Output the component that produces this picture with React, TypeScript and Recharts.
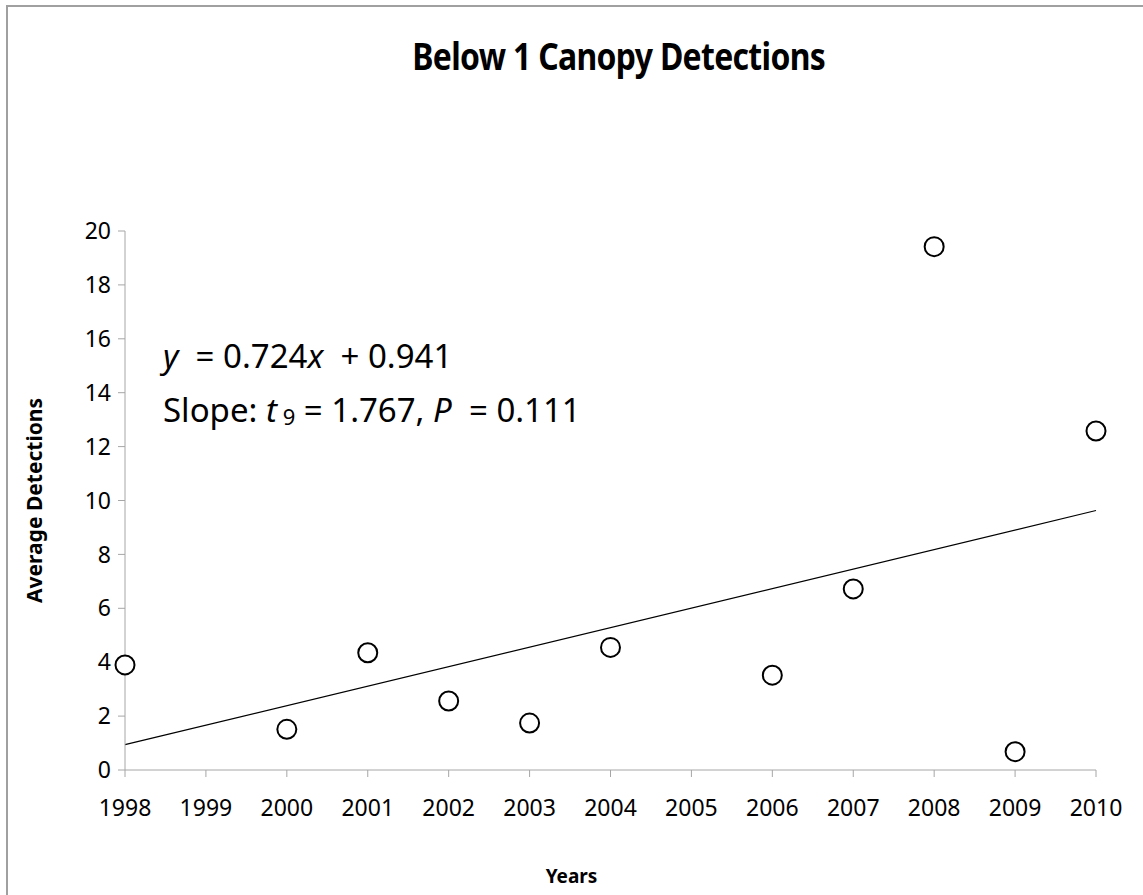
import { ComposedChart, Scatter, XAxis, YAxis, ReferenceLine } from 'recharts';

const years = [1998, 2000, 2001, 2002, 2003, 2004, 2006, 2007, 2008, 2009, 2010];
const detections = [3.9, 1.51, 4.35, 2.56, 1.74, 4.55, 3.52, 6.72, 19.42, 0.68, 12.58];
const xTicks = [1998, 1999, 2000, 2001, 2002, 2003, 2004, 2005, 2006, 2007, 2008, 2009, 2010];
const yTicks = [0, 2, 4, 6, 8, 10, 12, 14, 16, 18, 20];

// fitted trend, x counted in years from 1998
const slope = 0.724;
const intercept = 0.941;

const points = years.map((year, i) => ({ year, value: detections[i] }));

const font = '"Noto Sans", sans-serif';
const axisGray = '#a6a6a6';

const Ring = (props: any) => (
  <circle cx={props.cx} cy={props.cy} r={9.5} fill="#fff" stroke="#000" strokeWidth={2} />
);

const App = () => {
  const first = xTicks[0];
  const last = xTicks[xTicks.length - 1];

  return (
    <div
      style={{
        position: 'absolute',
        left: 6,
        top: 5,
        width: 1160,
        height: 910,
        border: '2px solid #a0a0a0',
        boxSizing: 'border-box',
        background: '#fff',
        fontFamily: font,
        color: '#000',
      }}
    >
      <div
        style={{
          position: 'absolute',
          left: 11,
          width: 1200,
          top: 22,
          textAlign: 'center',
          fontSize: 38,
          fontWeight: 'bold',
          letterSpacing: -0.8,
        }}
      >
        <span style={{ display: 'inline-block', transform: 'scaleX(0.84)' }}>
          Below 1 Canopy Detections
        </span>
      </div>

      <div
        style={{
          position: 'absolute',
          left: 155,
          top: 322,
          fontSize: 33,
          lineHeight: '54px',
          whiteSpace: 'pre',
        }}
      >
        <div>
          <i>y</i>{'  '}= 0.724<i>x</i>{'  '}+ 0.941
        </div>
        <div>
          Slope: <i>t</i>
          <sub style={{ fontSize: 22, verticalAlign: '-3px' }}> 9</sub> = 1.767, <i>P</i>{'  '}= 0.111
        </div>
      </div>

      <ComposedChart
        width={1140}
        height={890}
        data={points}
        margin={{ top: 224, right: 52, bottom: 97, left: 57 }}
      >
        <XAxis
          dataKey="year"
          type="number"
          domain={[first, last]}
          ticks={xTicks}
          interval={0}
          height={30}
          tickSize={7}
          tickMargin={23}
          stroke={axisGray}
          tick={{ fill: '#000', fontSize: 23, fontFamily: font }}
          label={{
            value: 'Years',
            position: 'bottom',
            offset: 70,
            dx: -39,
            fill: '#000',
            fontSize: 19,
            fontWeight: 'bold',
            fontFamily: font,
          }}
        />
        <YAxis
          dataKey="value"
          type="number"
          domain={[0, 20]}
          ticks={yTicks}
          interval={0}
          width={60}
          tickSize={7}
          tickMargin={7}
          stroke={axisGray}
          tick={{ fill: '#000', fontSize: 23, fontFamily: font }}
          label={{
            value: 'Average Detections',
            angle: -90,
            position: 'insideLeft',
            offset: -30,
            fill: '#000',
            fontSize: 21,
            fontWeight: 'bold',
            fontFamily: font,
            style: { textAnchor: 'middle' },
          }}
        />
        <ReferenceLine
          segment={[
            { x: first, y: intercept },
            { x: last, y: intercept + slope * (last - first) },
          ]}
          stroke="#000"
          strokeWidth={1.2}
        />
        <Scatter dataKey="value" fill="#fff" shape={Ring} isAnimationActive={false} />
      </ComposedChart>
    </div>
  );
};

export default App;
